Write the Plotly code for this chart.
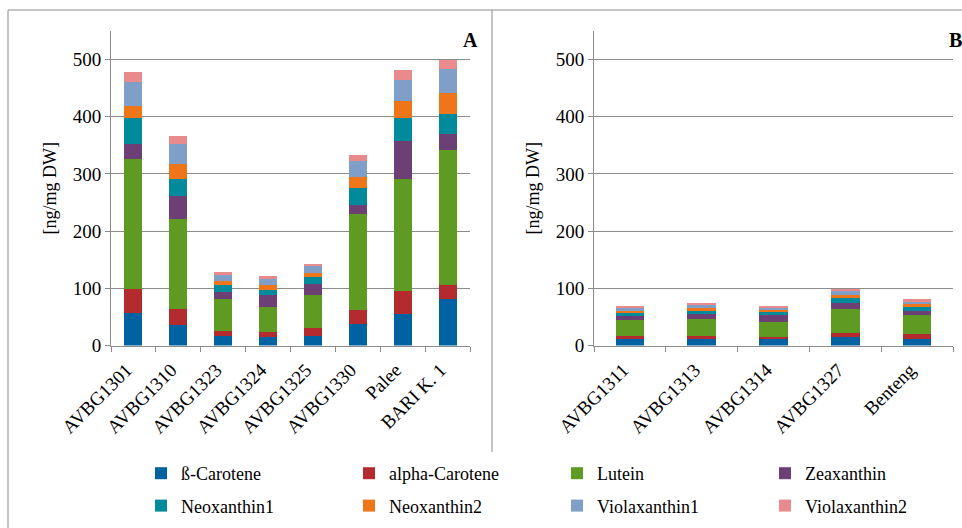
import plotly.graph_objects as go

# Cultivars in each panel
cultivars_a = ["AVBG1301", "AVBG1310", "AVBG1323", "AVBG1324", "AVBG1325",
               "AVBG1330", "Palee", "BARI K. 1"]
cultivars_b = ["AVBG1311", "AVBG1313", "AVBG1314", "AVBG1327", "Benteng"]

# Carotenoid content [ng/mg DW], panel A
beta_carotene_a = [56, 36, 17, 14.5, 17, 38, 55, 81]
alpha_carotene_a = [42, 27, 8, 8.5, 13, 24, 40, 25]
lutein_a = [228, 159, 57, 45, 58, 168, 196, 235]
zeaxanthin_a = [26, 40, 11, 20, 20, 16, 67, 28]
neoxanthin1_a = [45, 29, 12, 9, 11, 30, 40, 35]
neoxanthin2_a = [22, 26, 8, 9, 7, 19, 29, 38]
violaxanthin1_a = [42, 35, 11, 11, 14, 28, 37, 42]
violaxanthin2_a = [18, 15, 5, 5, 3, 10, 17, 16]

# Carotenoid content [ng/mg DW], panel B
beta_carotene_b = [10.5, 10.5, 10.5, 15.2, 11.7]
alpha_carotene_b = [5.3, 5.3, 4.7, 7.0, 7.6]
lutein_b = [28, 30.4, 25.2, 41, 34]
zeaxanthin_b = [7.6, 8.2, 12.8, 11.7, 7.6]
neoxanthin1_b = [4.7, 5.8, 4.8, 8.1, 5.9]
neoxanthin2_b = [4.8, 4.8, 4.6, 6.0, 5.3]
violaxanthin1_b = [6.5, 6.3, 4.7, 7.0, 5.8]
violaxanthin2_b = [2.3, 1.7, 1.7, 2.8, 2.9]

pigments = ["ß-Carotene", "alpha-Carotene", "Lutein", "Zeaxanthin",
            "Neoxanthin1", "Neoxanthin2", "Violaxanthin1", "Violaxanthin2"]
colors = ["#0062A1", "#B42B2F", "#5F9B22", "#6C3F75",
          "#008A9B", "#EF7618", "#7F9FC8", "#E98B8D"]

series_a = [beta_carotene_a, alpha_carotene_a, lutein_a, zeaxanthin_a,
            neoxanthin1_a, neoxanthin2_a, violaxanthin1_a, violaxanthin2_a]
series_b = [beta_carotene_b, alpha_carotene_b, lutein_b, zeaxanthin_b,
            neoxanthin1_b, neoxanthin2_b, violaxanthin1_b, violaxanthin2_b]

W, H = 962, 528
SERIF = "Liberation Serif"
GRID = "#8C8C8C"

legend_names = ["legend", "legend2", "legend3", "legend4"]

fig = go.Figure()
for i, name in enumerate(pigments):
    fig.add_trace(go.Bar(
        x=cultivars_a, y=series_a[i], name=name, marker_color=colors[i],
        marker_line_width=0, xaxis="x", yaxis="y",
        legendgroup=name, legend=legend_names[i % 4], showlegend=True,
    ))
    fig.add_trace(go.Bar(
        x=cultivars_b, y=series_b[i], name=name, marker_color=colors[i],
        marker_line_width=0, xaxis="x2", yaxis="y2",
        legendgroup=name, legend=legend_names[i % 4], showlegend=False,
    ))

y_dom = [(H - 345.5) / H, (H - 30.9) / H]

axis_common = dict(
    showline=True, linecolor=GRID, linewidth=1,
    ticks="outside", ticklen=5, tickcolor=GRID, tickwidth=1,
    tickfont=dict(family=SERIF, size=19, color="black"),
)

xcat = dict(axis_common, type="category", tickangle=-45, tickson="boundaries",
            showgrid=False, automargin=False,
            ticklabelshift=-7, ticklabelstandoff=5)
ylin = dict(axis_common, range=[0, 550], dtick=100, showgrid=True,
            gridcolor=GRID, gridwidth=1, zeroline=False, automargin=False,
            title=dict(text="[ng/mg DW]", standoff=11,
                       font=dict(family=SERIF, size=18, color="black")))

legend_style = dict(
    orientation="v", xanchor="left", yanchor="top", yref="paper",
    font=dict(family=SERIF, size=18, color="black"),
    bgcolor="rgba(0,0,0,0)", borderwidth=0, itemwidth=30,
    tracegroupgap=6, itemclick="toggleothers",
)
legend_x = [141, 349, 557, 765]
legends = {}
for k, ln in enumerate(legend_names):
    legends[ln] = dict(legend_style, x=legend_x[k] / W, y=(H - 455) / H)

line_style = dict(color=GRID, width=1)
fig.update_layout(
    width=W, height=H,
    margin=dict(l=0, r=0, t=0, b=0),
    paper_bgcolor="white", plot_bgcolor="white",
    barmode="stack", bargap=0.6,
    font=dict(family=SERIF, color="black"),
    xaxis=dict(xcat, domain=[111 / W, 470 / W], anchor="y"),
    yaxis=dict(ylin, domain=y_dom, anchor="x"),
    xaxis2=dict(xcat, domain=[594 / W, 953 / W], anchor="y2"),
    yaxis2=dict(ylin, domain=y_dom, anchor="x2"),
    shapes=[
        dict(type="line", xref="paper", yref="paper", x0=8 / W, x1=8 / W,
             y0=0, y1=(H - 10) / H, line=line_style),
        dict(type="line", xref="paper", yref="paper", x0=8 / W, x1=1,
             y0=(H - 10) / H, y1=(H - 10) / H, line=line_style),
        dict(type="line", xref="paper", yref="paper", x0=492 / W, x1=492 / W,
             y0=(H - 452) / H, y1=(H - 10) / H, line=line_style),
    ],
    annotations=[
        dict(text="<b>A</b>", xref="paper", yref="paper", x=470 / W,
             y=(H - 40) / H, showarrow=False, xanchor="center", yanchor="middle",
             font=dict(family=SERIF, size=20, color="black")),
        dict(text="<b>B</b>", xref="paper", yref="paper", x=955 / W,
             y=(H - 40) / H, showarrow=False, xanchor="center", yanchor="middle",
             font=dict(family=SERIF, size=20, color="black")),
    ],
    **legends,
)

fig.write_html("out.html")
